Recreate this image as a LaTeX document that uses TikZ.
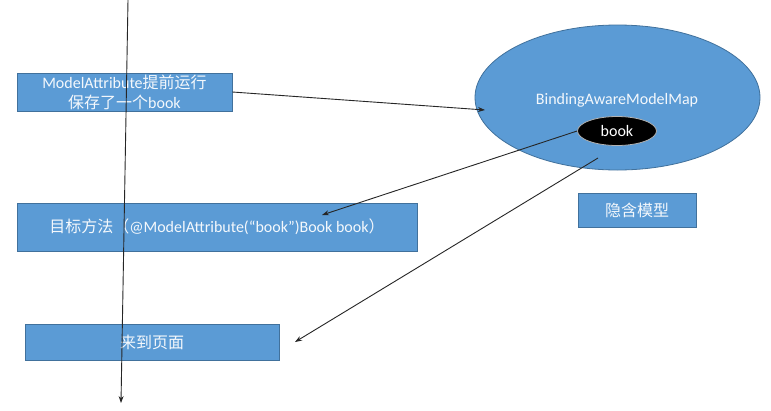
\documentclass[tikz,border=0pt]{standalone}
\usepackage{fontspec}
\setmainfont{Carlito}
\newfontfamily\cjk{Noto Sans CJK SC}
\usetikzlibrary{arrows.meta,shapes.geometric}
\definecolor{boxblue}{HTML}{5B9BD5}
\definecolor{boxedge}{HTML}{41719C}
\definecolor{txtwhite}{HTML}{F4F8FC}
\begin{document}
\begin{tikzpicture}[x=1pt,y=-1pt,
  font=\fontsize{16}{20}\selectfont,
  bluebox/.style={rectangle,fill=boxblue,draw=boxedge,line width=0.8pt,inner sep=0pt,text=txtwhite,align=center},
  blueoval/.style={ellipse,fill=boxblue,draw=boxedge,line width=0.8pt,inner sep=0pt},
  bookoval/.style={ellipse,fill=black,draw=gray!60,line width=0.8pt,inner sep=0pt,text=white},
  conn/.style={draw=black!85,line width=0.9pt,-{Stealth[length=7pt,width=5pt]}}]
\useasboundingbox[fill=white] (0,0) rectangle (771,410);
% boxes
\node[bluebox,minimum width=215pt,minimum height=38pt] (save) at (124.5,92)
  {ModelAttribute{\cjk 提前运行}\\{\cjk 保存了一个}book};
\node[bluebox,minimum width=400pt,minimum height=48pt] (target) at (217,227)
  {{\cjk 目标方法（}@ModelAttribute(“book”)Book book{\cjk ）}};
\node[bluebox,minimum width=254pt,minimum height=36pt] (page) at (152,342)
  {{\cjk 来到页面}};
\node[bluebox,minimum width=118pt,minimum height=34pt] (implicit) at (637,210)
  {{\cjk 隐含模型}};
% ellipse model map
\node[blueoval,minimum width=285pt,minimum height=145pt] (map) at (617.5,97.5) {};
\node[text=txtwhite,inner sep=0pt] (maplabel) at (617,100) {BindingAwareModelMap};
\node[bookoval,minimum width=79pt,minimum height=29pt] (book) at (617,131) {book};
% timeline
\coordinate (top) at (128,0);
\coordinate (bottom) at (121,403);
\draw[conn] (top) -- (bottom);
% arrow end points
\coordinate (mapin) at (485,110);
\coordinate (mapout) at (598,158);
\coordinate (targetin) at (322,215);
\coordinate (pagein) at (295,342);
\draw[conn] (save.east) -- (mapin);
\draw[conn] (book.west) -- (targetin);
\draw[conn] (mapout) -- (pagein);
\end{tikzpicture}
\end{document}
